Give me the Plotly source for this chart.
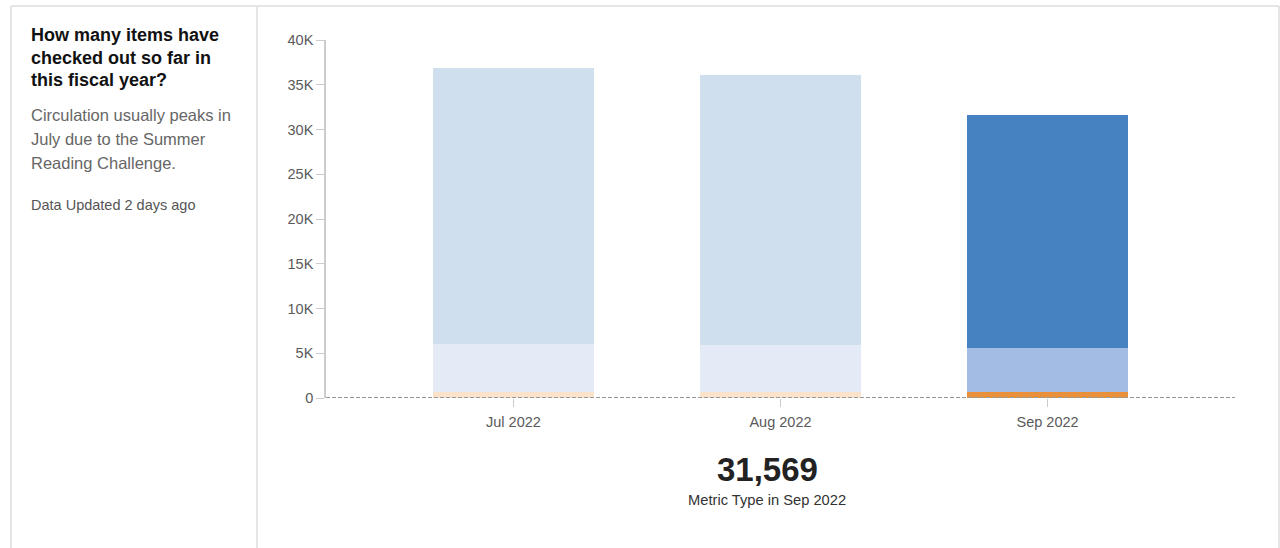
import plotly.graph_objects as go

# Monthly circulation split by metric type
months = ["Jul 2022", "Aug 2022", "Sep 2022"]
segment_low = [650, 640, 660]          # orange base segment
segment_mid = [5380, 5260, 4930]       # light blue middle segment
segment_top = [30840, 30190, 25979]    # blue top segment
y_tick_vals = [0, 5000, 10000, 15000, 20000, 25000, 30000, 35000, 40000]
y_tick_text = ["0", "5K", "10K", "15K", "20K", "25K", "30K", "35K", "40K"]
headline_value = "31,569"
headline_caption = "Metric Type in Sep 2022"

W, H = 1280, 548
L, R, T, B = 326, 1235, 40, 398  # plot area in pixels


def px(x):
    return (x - L) / (R - L)


def py(y):
    return (B - y) / (B - T)


low_colors = ["#FBE3CB", "#FBE3CB", "#E8913A"]
mid_colors = ["#E4EBF6", "#E4EBF6", "#A3BCE3"]
top_colors = ["#CFDFEE", "#CFDFEE", "#4681C1"]

fig = go.Figure()
for vals, cols in [(segment_low, low_colors), (segment_mid, mid_colors), (segment_top, top_colors)]:
    fig.add_trace(go.Bar(x=months, y=vals, marker=dict(color=cols, line=dict(width=0)),
                         width=0.603, showlegend=False, hoverinfo="skip"))

fig.update_layout(
    width=W, height=H, barmode="stack",
    margin=dict(l=L, r=W - R, t=T, b=H - B, pad=0),
    paper_bgcolor="white", plot_bgcolor="white",
    font=dict(family="Liberation Sans, Arial, sans-serif", color="#555", size=14),
    xaxis=dict(type="category", range=[-0.702, 2.702], showgrid=False, showline=False,
               zeroline=False, ticks="outside", ticklen=8, tickcolor="#ccc",
               ticklabelstandoff=3,
               tickfont=dict(size=14.5, color="#5a5a5a")),
    yaxis=dict(range=[0, 40000], tickvals=y_tick_vals, ticktext=y_tick_text,
               showgrid=False, zeroline=False, showline=True, linecolor="#ccc",
               linewidth=1.5, ticks="outside", ticklen=8, tickcolor="#ccc",
               tickfont=dict(size=14.5, color="#5a5a5a")),
)

shapes = [
    # dashed baseline at zero
    dict(type="line", xref="paper", yref="y", x0=0, x1=1, y0=0, y1=0,
         line=dict(color="#999", width=2, dash="4px,2px")),
    # card frame and panel divider
    dict(type="line", xref="paper", yref="paper", x0=px(11), x1=px(1279), y0=py(6), y1=py(6),
         line=dict(color="#ddd", width=1.5)),
    dict(type="line", xref="paper", yref="paper", x0=px(11), x1=px(11), y0=py(6), y1=py(560),
         line=dict(color="#ddd", width=1.5)),
    dict(type="line", xref="paper", yref="paper", x0=px(1279), x1=px(1279), y0=py(6), y1=py(560),
         line=dict(color="#ddd", width=1.5)),
    dict(type="line", xref="paper", yref="paper", x0=px(257), x1=px(257), y0=py(6), y1=py(560),
         line=dict(color="#ddd", width=1.5)),
]
fig.update_layout(shapes=shapes)

ann = []
title_lines = ["How many items have", "checked out so far in", "this fiscal year?"]
for i, line in enumerate(title_lines):
    ann.append(dict(text="<b>" + line + "</b>", x=px(29), y=py(35 + 22.5 * i),
                    xanchor="left", yanchor="middle",
                    font=dict(size=18, color="#111")))
sub_lines = ["Circulation usually peaks in", "July due to the Summer", "Reading Challenge."]
for i, line in enumerate(sub_lines):
    ann.append(dict(text=line, x=px(29), y=py(115 + 24 * i), xanchor="left", yanchor="middle",
                    font=dict(size=16.5, color="#666")))
ann.append(dict(text="Data Updated 2 days ago", x=px(29), y=py(205), xanchor="left",
                yanchor="middle", font=dict(size=14.5, color="#555")))
ann.append(dict(text="<b>" + headline_value + "</b>", x=px(767), y=py(469), xanchor="center",
                yanchor="middle", font=dict(size=33, color="#222")))
ann.append(dict(text=headline_caption, x=px(767), y=py(500), xanchor="center",
                yanchor="middle", font=dict(size=14.7, color="#333")))
for a in ann:
    a.update(xref="paper", yref="paper", showarrow=False)
fig.update_layout(annotations=ann)

fig.write_html("out.html")
